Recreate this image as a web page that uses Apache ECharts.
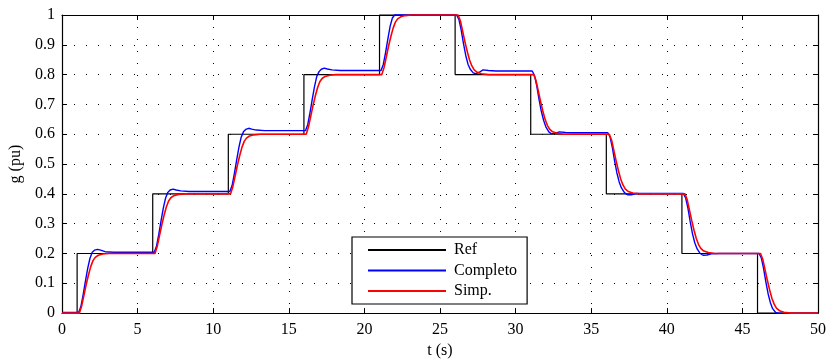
<!DOCTYPE html>
<html>
<head>
<meta charset="utf-8">
<title>g (pu)</title>
<script src="https://cdn.jsdelivr.net/npm/echarts@6/dist/echarts.min.js"></script>
<style>
  html, body { margin: 0; padding: 0; background: #fff; }
  #chart { width: 830px; height: 364px; }
</style>
</head>
<body>
<div id="chart"></div>
<script>
// referencia en escalon
const refTimes = [0, 1, 6, 11, 16, 21, 26, 31, 36, 41, 46, 50];
const refLevels = [0, 0.2, 0.4, 0.6, 0.8, 1, 0.8, 0.6, 0.4, 0.2, 0, 0];

// modelo completo [t, g]
const completo = [
  [0, 0.002],
  [1.1, 0.002], [1.25, 0.022], [1.4, 0.062], [1.55, 0.107], [1.7, 0.15], [1.85, 0.184], [2.0, 0.204], [2.15, 0.211], [2.35, 0.214], [2.55, 0.211], [2.85, 0.206], [3.4, 0.204],
  [6.1, 0.204], [6.25, 0.224], [6.4, 0.264], [6.55, 0.309], [6.7, 0.352], [6.85, 0.386], [7.0, 0.405], [7.15, 0.413], [7.35, 0.416], [7.55, 0.413], [7.85, 0.41], [8.4, 0.408],
  [11.1, 0.408], [11.25, 0.428], [11.4, 0.468], [11.55, 0.513], [11.7, 0.556], [11.85, 0.59], [12.0, 0.608], [12.15, 0.616], [12.35, 0.62], [12.55, 0.617], [12.85, 0.614], [13.4, 0.612],
  [16.1, 0.612], [16.25, 0.632], [16.4, 0.672], [16.55, 0.717], [16.7, 0.76], [16.85, 0.794], [17.0, 0.81], [17.15, 0.818], [17.35, 0.822], [17.55, 0.819], [17.85, 0.816], [18.4, 0.814],
  [21.1, 0.814], [21.25, 0.834], [21.4, 0.874], [21.55, 0.919], [21.7, 0.962], [21.85, 0.99], [22.0, 1],
  [26.1, 1], [26.25, 0.985], [26.4, 0.95], [26.55, 0.905], [26.7, 0.865], [26.85, 0.835], [27.0, 0.818], [27.2, 0.806], [27.35, 0.803], [27.6, 0.808], [27.85, 0.816], [28.2, 0.814], [28.7, 0.812],
  [31.1, 0.812], [31.25, 0.797], [31.4, 0.762], [31.55, 0.717], [31.7, 0.677], [31.85, 0.647], [32.0, 0.625], [32.2, 0.608], [32.35, 0.602], [32.6, 0.603], [32.9, 0.608], [33.3, 0.606], [33.8, 0.605],
  [36.1, 0.605], [36.25, 0.59], [36.4, 0.555], [36.55, 0.51], [36.7, 0.47], [36.85, 0.44], [37.0, 0.42], [37.2, 0.404], [37.4, 0.397], [37.65, 0.397], [37.95, 0.401], [38.5, 0.401],
  [41.1, 0.401], [41.25, 0.386], [41.4, 0.351], [41.55, 0.306], [41.7, 0.266], [41.85, 0.236], [42.0, 0.216], [42.2, 0.2], [42.4, 0.194], [42.65, 0.195], [42.95, 0.199], [43.5, 0.2],
  [46.1, 0.2], [46.25, 0.185], [46.4, 0.15], [46.55, 0.105], [46.7, 0.065], [46.85, 0.035], [47.0, 0.015], [47.2, 0.002], [47.4, 0], [50, 0]
];

// modelo simplificado [t, g]
const simp = [
  [0, 0],
  [1.15, 0], [1.3, 0.024], [1.45, 0.06], [1.6, 0.096], [1.75, 0.128], [1.9, 0.156], [2.05, 0.176], [2.2, 0.187], [2.4, 0.194], [2.7, 0.198], [3.1, 0.2],
  [6.15, 0.2], [6.3, 0.224], [6.45, 0.26], [6.6, 0.296], [6.75, 0.328], [6.9, 0.356], [7.05, 0.376], [7.2, 0.387], [7.4, 0.394], [7.7, 0.398], [8.1, 0.4],
  [11.15, 0.4], [11.3, 0.424], [11.45, 0.46], [11.6, 0.496], [11.75, 0.528], [11.9, 0.556], [12.05, 0.576], [12.2, 0.587], [12.4, 0.594], [12.7, 0.598], [13.1, 0.6],
  [16.15, 0.6], [16.3, 0.624], [16.45, 0.66], [16.6, 0.696], [16.75, 0.728], [16.9, 0.756], [17.05, 0.776], [17.2, 0.787], [17.4, 0.794], [17.7, 0.798], [18.1, 0.8],
  [21.15, 0.8], [21.3, 0.824], [21.45, 0.86], [21.6, 0.896], [21.75, 0.928], [21.9, 0.956], [22.05, 0.976], [22.2, 0.987], [22.4, 0.994], [22.7, 0.998], [23.1, 1],
  [26.2, 1], [26.35, 0.98], [26.5, 0.945], [26.65, 0.91], [26.8, 0.878], [26.95, 0.85], [27.1, 0.83], [27.25, 0.817], [27.45, 0.808], [27.75, 0.803], [28.2, 0.8],
  [31.2, 0.8], [31.35, 0.78], [31.5, 0.745], [31.65, 0.71], [31.8, 0.678], [31.95, 0.65], [32.1, 0.63], [32.25, 0.617], [32.45, 0.608], [32.75, 0.603], [33.2, 0.6],
  [36.2, 0.6], [36.35, 0.58], [36.5, 0.545], [36.65, 0.51], [36.8, 0.478], [36.95, 0.45], [37.1, 0.43], [37.25, 0.417], [37.45, 0.408], [37.75, 0.403], [38.2, 0.4],
  [41.2, 0.4], [41.35, 0.38], [41.5, 0.345], [41.65, 0.31], [41.8, 0.278], [41.95, 0.25], [42.1, 0.23], [42.25, 0.217], [42.45, 0.208], [42.75, 0.203], [43.2, 0.2],
  [46.2, 0.2], [46.35, 0.18], [46.5, 0.145], [46.65, 0.11], [46.8, 0.078], [46.95, 0.05], [47.1, 0.03], [47.25, 0.017], [47.45, 0.008], [47.75, 0.003], [48.2, 0], [50, 0]
];

const font = "'Liberation Serif', 'DejaVu Serif', serif";
const chart = echarts.init(document.getElementById('chart'));

const gridLine = { show: true, lineStyle: { color: '#000', width: 1, type: [1, 11] } };
const frame = { show: true, onZero: false, lineStyle: { color: '#000', width: 1.2 } };
const inTicks = { show: true, inside: true, length: 5, lineStyle: { color: '#000', width: 1 } };

const option = {
  animation: false,
  backgroundColor: '#fff',
  textStyle: { fontFamily: font },
  grid: { left: 62, right: 12, top: 15, bottom: 46 },
  legend: {
    orient: 'vertical',
    left: 352,
    top: 237,
    data: ['Ref', 'Completo', 'Simp.'],
    icon: 'rect',
    itemWidth: 78,
    itemHeight: 2,
    itemGap: 4.5,
    padding: [5, 10, 5, 16],
    borderColor: '#000',
    borderWidth: 1.2,
    backgroundColor: '#fff',
    textStyle: { fontFamily: font, fontSize: 16, color: '#000', lineHeight: 16, padding: [0, 0, 0, 3] }
  },
  xAxis: [
    {
      type: 'value', min: 0, max: 50, interval: 5,
      name: 't (s)', nameLocation: 'middle', nameGap: 26,
      nameTextStyle: { fontFamily: font, fontSize: 16, color: '#000' },
      axisLine: frame, axisTick: inTicks, splitLine: gridLine,
      axisLabel: { fontFamily: font, fontSize: 16, color: '#000', margin: 9 }
    },
    {
      type: 'value', min: 0, max: 50, interval: 5, position: 'top',
      axisLine: frame, axisTick: inTicks, splitLine: { show: false },
      axisLabel: { show: false }
    }
  ],
  yAxis: [
    {
      type: 'value', min: 0, max: 1, interval: 0.1,
      name: 'g (pu)', nameLocation: 'middle', nameGap: 38,
      nameTextStyle: { fontFamily: font, fontSize: 16, color: '#000' },
      axisLine: frame, axisTick: inTicks, splitLine: gridLine,
      axisLabel: { fontFamily: font, fontSize: 16, color: '#000', margin: 7 }
    },
    {
      type: 'value', min: 0, max: 1, interval: 0.1, position: 'right',
      axisLine: frame, axisTick: inTicks, splitLine: { show: false },
      axisLabel: { show: false }
    }
  ],
  series: [
    {
      name: 'Ref',
      type: 'line',
      step: 'end',
      symbol: 'none',
      clip: false,
      data: refTimes.map((t, i) => [t, refLevels[i]]),
      lineStyle: { color: '#000', width: 1.2 },
      itemStyle: { color: '#000' }
    },
    {
      name: 'Completo',
      type: 'line',
      symbol: 'none',
      clip: false,
      data: completo,
      lineStyle: { color: '#0000ff', width: 1.4 },
      itemStyle: { color: '#0000ff' }
    },
    {
      name: 'Simp.',
      type: 'line',
      symbol: 'none',
      clip: false,
      data: simp,
      lineStyle: { color: '#ff0000', width: 1.6 },
      itemStyle: { color: '#ff0000' }
    }
  ]
};
chart.setOption(option);
</script>
</body>
</html>
